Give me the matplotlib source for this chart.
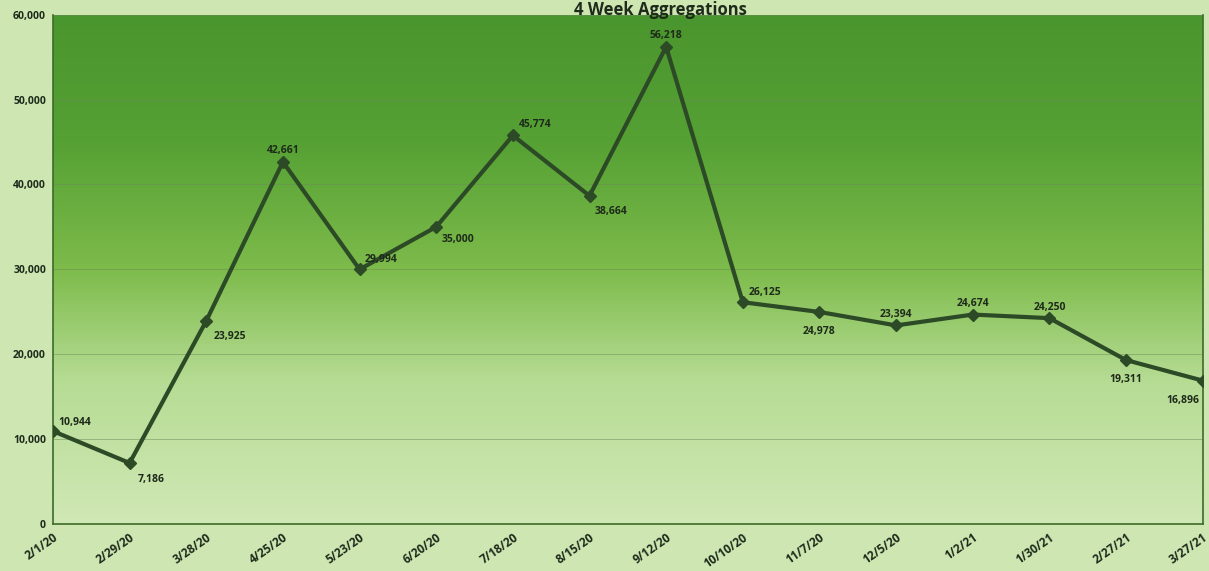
import numpy as np
import matplotlib
matplotlib.use('Agg')
import matplotlib.pyplot as plt
from matplotlib.colors import LinearSegmentedColormap

# 4 week aggregation values
dates = ['2/1/20', '2/29/20', '3/28/20', '4/25/20', '5/23/20', '6/20/20', '7/18/20',
         '8/15/20', '9/12/20', '10/10/20', '11/7/20', '12/5/20', '1/2/21', '1/30/21',
         '2/27/21', '3/27/21']
values = [10944, 7186, 23925, 42661, 29994, 35000, 45774, 38664, 56218, 26125,
          24978, 23394, 24674, 24250, 19311, 16896]
# where each data label goes: (dx, dy) in points
label_offsets = [(4, 6), (6, -12), (5, -11), (0, 8), (4, 7), (4, -9), (4, 8), (4, -11),
                 (0, 8), (4, 7), (0, -14), (0, 8), (0, 8), (0, 8), (0, -14), (-14, -14)]
yticks = [0, 10000, 20000, 30000, 40000, 50000, 60000]

plt.rcParams['font.family'] = ['Open Sans', 'DejaVu Sans']

fig = plt.figure(figsize=(12.09, 5.71), dpi=100, facecolor='#cde6b2')
ax = fig.add_axes([0.0438, 0.0823, 0.951, 0.892])

x = np.arange(len(dates))
ax.set_xlim(0, len(dates) - 1)
ax.set_ylim(0, 60000)

# gradient background, dark green at top to pale at bottom
cmap = LinearSegmentedColormap.from_list('g', [(0, '#d0e8b5'), (0.28, '#b6dc94'),
                                               (0.5, '#7dbb4b'), (0.75, '#56a134'),
                                               (1, '#4a962e')])
grad = np.linspace(0, 1, 256).reshape(-1, 1)
ax.imshow(grad, cmap=cmap, origin='lower', aspect='auto',
          extent=[0, len(dates) - 1, 0, 60000], zorder=0)

for yt in yticks[1:]:
    ax.axhline(yt, color='#6d8a5a', lw=0.7, alpha=0.5, zorder=1)

ax.plot(x, values, color='#2c4a26', lw=3, marker='D', ms=6, zorder=3)

for xi, v, (dx, dy) in zip(x, values, label_offsets):
    ax.annotate(f'{v:,}', (xi, v), xytext=(dx, dy), textcoords='offset points',
                ha='left' if dx > 0 else 'center', va='center', fontsize=7.5,
                fontweight='bold', color='#1e2a1a', zorder=4)

ax.set_xticks(x)
ax.set_xticklabels(dates, rotation=35, ha='right', rotation_mode='anchor',
                   fontsize=8.5, fontweight='bold', color='#1e2a1a')
ax.set_yticks(yticks)
ax.set_yticklabels([f'{t:,}' for t in yticks], fontsize=7.5, fontweight='bold',
                   color='#1e2a1a')
ax.tick_params(axis='both', length=0, pad=5)

for side in ['left', 'bottom', 'right']:
    ax.spines[side].set_color('#3d6b2a')
    ax.spines[side].set_linewidth(1.2)
ax.spines['top'].set_visible(False)

fig.text(0.546, 0.999, '4 Week Aggregations', ha='center', va='top',
         fontsize=12, fontweight='bold', color='#1e2a1a')

fig.savefig('out.png', dpi=100, facecolor=fig.get_facecolor())
